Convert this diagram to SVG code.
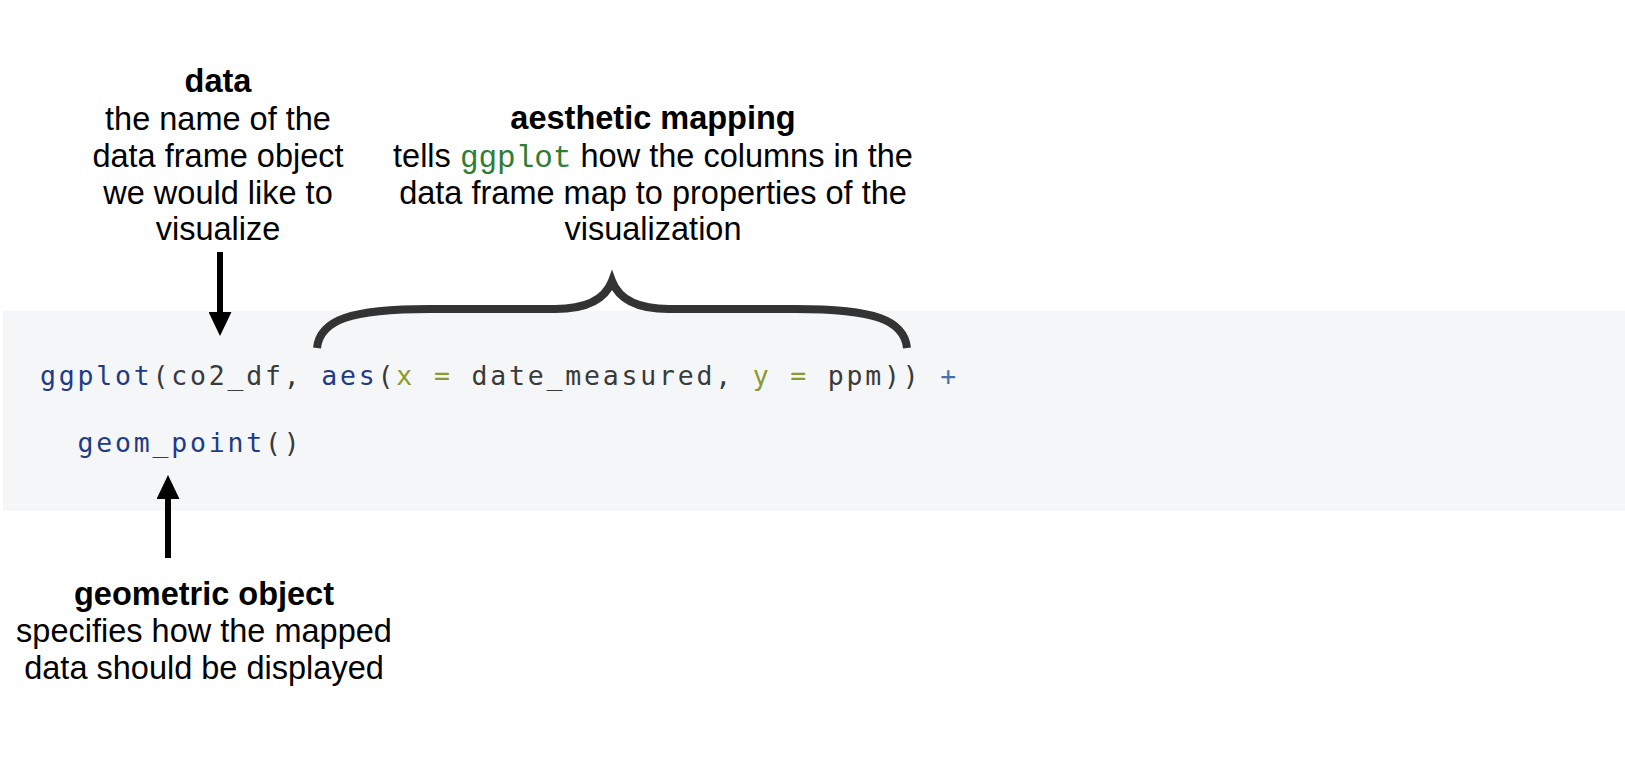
<svg xmlns="http://www.w3.org/2000/svg" width="1625" height="772" viewBox="0 0 1625 772">
<style>
.lbl{font-family:"Liberation Sans",Arial,Helvetica,sans-serif;font-size:32.5px;fill:#000;text-anchor:middle}
.b{font-weight:bold}
.code{font-family:"DejaVu Sans Mono","Liberation Mono",monospace;font-size:26.5px;letter-spacing:2.8px;fill:#3a3a3a}
.fn{fill:#1f3b87}
.arg{fill:#8a9a2e}
.op{fill:#4271ae}
.inl{font-family:"Liberation Mono","Courier New",monospace;font-size:31px;fill:#2e7d32}
.conn{stroke:#000;stroke-width:6;fill:none}
.brace{stroke:#333;stroke-width:8;fill:none;stroke-linecap:butt}
</style>
<defs>
<marker id="ah" viewBox="0 0 24 23" markerWidth="24" markerHeight="23" refX="1" refY="11.5" orient="auto" markerUnits="userSpaceOnUse">
<path d="M0,0 L24,11.5 L0,23 Z" fill="#000"/>
</marker>
</defs>
<rect width="1625" height="772" fill="#fff"/>
<g id="codeblock">
<rect x="3" y="311" width="1622" height="200" fill="#f5f6f8"/>
<text class="code" x="40" y="385"><tspan class="fn">ggplot</tspan>(co2_df, <tspan class="fn">aes</tspan>(<tspan class="arg">x</tspan> <tspan class="arg">=</tspan> date_measured, <tspan class="arg">y</tspan> <tspan class="arg">=</tspan> ppm)) <tspan class="op">+</tspan></text>
<text class="code" x="77.5" y="452"><tspan class="fn">geom_point</tspan>()</text>
</g>
<g id="data">
<text class="lbl b" x="218" y="92">data</text>
<text class="lbl" x="218" y="130">the name of the</text>
<text class="lbl" x="218" y="167">data frame object</text>
<text class="lbl" x="218" y="203.5">we would like to</text>
<text class="lbl" x="218" y="240">visualize</text>
</g>
<g id="aesthetic">
<text class="lbl b" x="653" y="129">aesthetic mapping</text>
<text class="lbl" x="653" y="166.5">tells <tspan class="inl">ggplot</tspan> how the columns in the</text>
<text class="lbl" x="653" y="203.5">data frame map to properties of the</text>
<text class="lbl" x="653" y="240">visualization</text>
</g>
<g id="geom">
<text class="lbl b" x="204" y="605">geometric object</text>
<text class="lbl" x="204" y="642">specifies how the mapped</text>
<text class="lbl" x="204" y="679">data should be displayed</text>
</g>
<g id="connectors">
<line class="conn" x1="220" y1="252" x2="220" y2="313" marker-end="url(#ah)"/>
<line class="conn" x1="168" y1="558" x2="168" y2="498" marker-end="url(#ah)"/>
<path class="brace" d="M317,348 C320,320 350,309 430,309 L555,309 C590,309 606,297 612,281 C618,297 634,309 669,309 L795,309 C875,309 904,320 907,348"/>
</g>
</svg>
